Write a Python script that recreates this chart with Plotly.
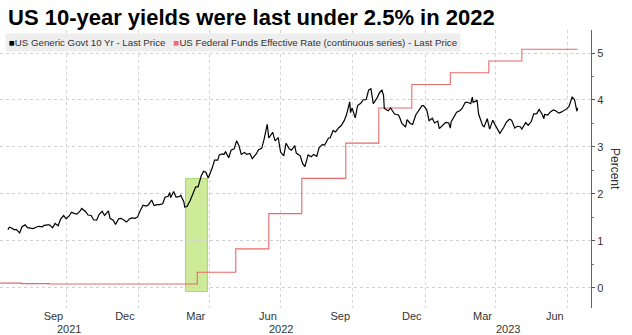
import plotly.graph_objects as go

# ---------------- data ----------------
ust10_dates = [
    "2021-07-19","2021-07-21","2021-07-23","2021-07-27","2021-07-30","2021-08-03","2021-08-06","2021-08-10",
    "2021-08-13","2021-08-17","2021-08-20","2021-08-24","2021-08-27","2021-09-01","2021-09-03","2021-09-08",
    "2021-09-10","2021-09-14","2021-09-17","2021-09-21","2021-09-24","2021-09-28","2021-10-01","2021-10-05",
    "2021-10-08","2021-10-12","2021-10-15","2021-10-19","2021-10-21","2021-10-26","2021-10-29","2021-11-02",
    "2021-11-05","2021-11-09","2021-11-12","2021-11-16","2021-11-19","2021-11-24","2021-11-26","2021-11-30",
    "2021-12-03","2021-12-07","2021-12-10","2021-12-14","2021-12-17","2021-12-21","2021-12-24","2021-12-28",
    "2021-12-31",
    "2022-01-04","2022-01-07","2022-01-11","2022-01-14","2022-01-18","2022-01-21","2022-01-25","2022-01-28",
    "2022-02-01","2022-02-04","2022-02-08","2022-02-10","2022-02-11","2022-02-15","2022-02-18","2022-02-22",
    "2022-02-24","2022-02-28","2022-03-01","2022-03-04","2022-03-08","2022-03-11","2022-03-15","2022-03-18",
    "2022-03-22","2022-03-25","2022-03-28","2022-03-31","2022-04-05","2022-04-08","2022-04-12","2022-04-14",
    "2022-04-18","2022-04-20","2022-04-22","2022-04-26","2022-04-29","2022-05-03","2022-05-06","2022-05-09",
    "2022-05-12","2022-05-16","2022-05-19","2022-05-23","2022-05-26","2022-05-31","2022-06-03","2022-06-07",
    "2022-06-10","2022-06-14","2022-06-16","2022-06-21","2022-06-24","2022-06-28","2022-07-01","2022-07-05",
    "2022-07-08","2022-07-12","2022-07-15","2022-07-19","2022-07-21","2022-07-26","2022-07-29","2022-08-01",
    "2022-08-05","2022-08-09","2022-08-12","2022-08-16","2022-08-19","2022-08-23","2022-08-26","2022-08-31",
    "2022-09-02","2022-09-06","2022-09-09","2022-09-13","2022-09-16","2022-09-20","2022-09-23","2022-09-27",
    "2022-09-28","2022-09-30","2022-10-04","2022-10-07","2022-10-11","2022-10-14","2022-10-18","2022-10-21",
    "2022-10-24","2022-10-27","2022-11-01","2022-11-04","2022-11-07","2022-11-09","2022-11-10","2022-11-15",
    "2022-11-18","2022-11-23","2022-11-28","2022-11-30","2022-12-02","2022-12-07","2022-12-09","2022-12-13",
    "2022-12-16","2022-12-20","2022-12-23","2022-12-28","2022-12-30",
    "2023-01-03","2023-01-06","2023-01-10","2023-01-13","2023-01-17","2023-01-19","2023-01-24","2023-01-27",
    "2023-01-31","2023-02-02","2023-02-03","2023-02-07","2023-02-10","2023-02-14","2023-02-17","2023-02-21",
    "2023-02-24","2023-02-28","2023-03-02","2023-03-03","2023-03-08","2023-03-10","2023-03-13","2023-03-15",
    "2023-03-17","2023-03-21","2023-03-24","2023-03-28","2023-03-31","2023-04-04","2023-04-06","2023-04-11",
    "2023-04-14","2023-04-18","2023-04-21","2023-04-25","2023-04-28","2023-05-02","2023-05-04","2023-05-09",
    "2023-05-12","2023-05-16","2023-05-19","2023-05-23","2023-05-26","2023-05-30","2023-06-01","2023-06-02",
    "2023-06-06","2023-06-09","2023-06-13","2023-06-16","2023-06-20","2023-06-23","2023-06-27","2023-06-30",
    "2023-07-03","2023-07-06","2023-07-07","2023-07-10","2023-07-12","2023-07-13","2023-07-14",
]
ust10_values = [
    1.24,1.29,1.28,1.24,1.24,1.17,1.30,1.34,
    1.28,1.26,1.26,1.29,1.31,1.30,1.33,1.34,
    1.34,1.28,1.37,1.32,1.46,1.54,1.47,1.53,
    1.61,1.58,1.57,1.64,1.69,1.62,1.55,1.54,
    1.45,1.44,1.56,1.63,1.54,1.64,1.48,1.44,
    1.35,1.47,1.48,1.44,1.40,1.47,1.49,1.48,
    1.51,
    1.66,1.76,1.74,1.77,1.87,1.75,1.77,1.77,
    1.79,1.93,1.95,2.03,1.92,2.05,1.93,1.94,
    1.97,1.83,1.72,1.73,1.86,2.00,2.15,2.15,
    2.38,2.48,2.46,2.34,2.55,2.72,2.72,2.83,
    2.85,2.84,2.90,2.77,2.93,2.96,3.13,3.03,
    2.84,2.88,2.84,2.86,2.75,2.85,2.94,2.97,
    3.16,3.48,3.19,3.31,3.13,3.20,2.89,2.81,
    3.08,2.96,2.93,3.03,2.87,2.81,2.65,2.58,
    2.83,2.79,2.84,2.80,2.98,3.05,3.04,3.19,
    3.19,3.35,3.32,3.41,3.45,3.56,3.69,3.96,
    3.73,3.83,3.62,3.88,3.93,4.00,4.01,4.21,
    4.24,3.92,4.05,4.16,4.21,4.10,3.82,3.77,
    3.83,3.70,3.68,3.61,3.51,3.42,3.58,3.50,
    3.48,3.68,3.75,3.88,3.88,
    3.79,3.56,3.61,3.51,3.55,3.39,3.46,3.52,
    3.51,3.40,3.53,3.67,3.74,3.77,3.82,3.95,
    3.95,3.92,4.06,3.95,3.99,3.70,3.57,3.46,
    3.43,3.60,3.38,3.57,3.47,3.34,3.29,3.42,
    3.52,3.59,3.57,3.40,3.44,3.43,3.38,3.52,
    3.46,3.54,3.70,3.71,3.80,3.69,3.60,3.69,
    3.68,3.74,3.79,3.77,3.72,3.74,3.77,3.81,
    3.86,4.05,4.06,4.01,3.86,3.76,3.83,
]

fed_dates = ["2021-07-09","2021-08-05","2021-09-10","2022-03-17","2022-05-05","2022-06-16","2022-07-28",
             "2022-09-22","2022-11-03","2022-12-15","2023-02-02","2023-03-23","2023-05-04","2023-07-14"]
fed_values = [0.10,0.09,0.08,0.33,0.83,1.58,2.33,3.08,3.83,4.33,4.58,4.83,5.08,5.08]

month_tick_dates = ["2021-09-15","2021-12-15","2022-03-15","2022-06-15","2022-09-15","2022-12-15","2023-03-15","2023-06-15"]
month_tick_labels = ["Sep","Dec","Mar","Jun","Sep","Dec","Mar","Jun"]
grid_dates = ["2021-10-01","2022-01-01","2022-04-01","2022-07-01","2022-10-01","2023-01-01","2023-04-01","2023-07-01"]
year_labels = ["2021","2022","2023"]
year_label_dates = ["2021-10-05","2022-07-02","2023-04-16"]

highlight_start, highlight_end = "2022-03-02", "2022-03-30"
highlight_low, highlight_high = -0.08, 2.33

title_text = "US 10-year yields were last under 2.5% in 2022"
series1_name = "US Generic Govt 10 Yr - Last Price"
series2_name = "US Federal Funds Effective Rate (continuous series) - Last Price"

BLACK = "#000000"
RED = "#e8696b"
FONT = "Liberation Sans"

fig = go.Figure()
fig.add_trace(go.Scatter(x=fed_dates, y=fed_values, mode="lines", line=dict(color=RED, width=1.1, shape="hv"),
                         name=series2_name, showlegend=False))
fig.add_trace(go.Scatter(x=ust10_dates, y=ust10_values, mode="lines", line=dict(color=BLACK, width=1.2),
                         name=series1_name, showlegend=False))

fig.add_shape(type="rect", xref="x", yref="y", x0=highlight_start, x1=highlight_end,
              y0=highlight_low, y1=highlight_high, fillcolor="#cdeb98", line=dict(color="#a9d86c", width=1),
              layer="below")

fig.update_layout(
    width=632, height=335,
    margin=dict(l=0, r=41, t=30, b=27),
    paper_bgcolor="white", plot_bgcolor="white",
    font=dict(family=FONT, size=11, color="#333333"),
    xaxis=dict(
        type="date", range=["2021-07-09", "2023-07-31"],
        tickmode="array", tickvals=month_tick_dates, ticktext=month_tick_labels,
        ticks="", showgrid=False, showline=False, zeroline=False,
        tickfont=dict(family=FONT, size=11, color="#333333"),
        minor=dict(tickmode="array", tickvals=grid_dates, showgrid=True, gridcolor="#d4d4d4",
                   griddash="dot", gridwidth=1, ticks=""),
    ),
    yaxis=dict(
        side="right", range=[-0.43, 5.49],
        tickmode="array", tickvals=[0, 1, 2, 3, 4, 5],
        ticks="outside", ticklen=3, tickcolor="#555555",
        showline=True, linecolor="#666666", linewidth=1,
        showgrid=True, gridcolor="#d0d0d0", griddash="dot", gridwidth=1,
        zeroline=False,
        tickfont=dict(family=FONT, size=11, color="#333333"),
        minor=dict(dtick=0.5, tick0=0, ticks="outside", ticklen=2, tickcolor="#777777", showgrid=False),
    ),
)

# title
fig.add_annotation(text="<b>" + title_text + "</b>", xref="paper", yref="paper", x=0, y=1,
                   xanchor="left", yanchor="middle", xshift=6, yshift=13, showarrow=False,
                   font=dict(family=FONT, size=22, color="#000000"))

# legend (Bloomberg style)
legend_text = ("<span style='color:#000000'>■</span>" + series1_name + "\u00a0\u00a0\u00a0"
               + "<span style='color:#f06b72'>■</span>" + series2_name)
fig.add_annotation(text=legend_text, xref="paper", yref="paper", x=0, y=1,
                   xanchor="left", yanchor="middle", xshift=5, yshift=-12, showarrow=False,
                   bgcolor="#eeeeee", borderpad=3,
                   font=dict(family=FONT, size=9.7, color="#333333"))

# year labels
for lbl, d in zip(year_labels, year_label_dates):
    fig.add_annotation(text=lbl, xref="x", yref="paper", x=d, y=0, yanchor="middle",
                       yshift=-21, showarrow=False, font=dict(family=FONT, size=11, color="#333333"))

# y axis title
fig.add_annotation(text="Percent", xref="paper", yref="paper", x=1, y=0.5, xanchor="center",
                   yanchor="middle", xshift=24, showarrow=False, textangle=90,
                   font=dict(family=FONT, size=12, color="#333333"))

fig.write_html("out.html")
